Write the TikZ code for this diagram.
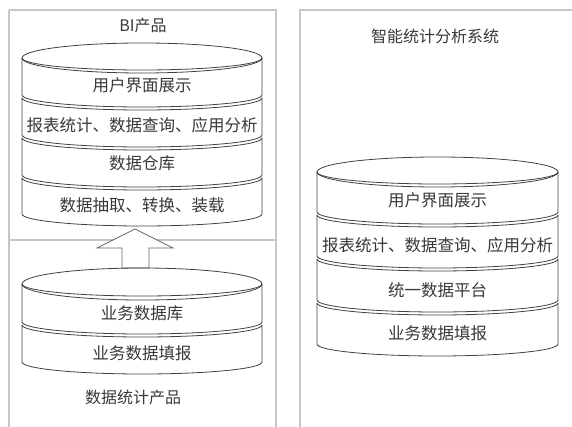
\documentclass[tikz,border=0pt]{standalone}
\usepackage{fontspec}
\newfontfamily\cjk{Noto Sans CJK SC}
\tikzset{
  panel/.style={draw=black!22, line width=1.3pt},
  stackline/.style={draw=black!75, line width=0.8pt},
  lbl/.style={font=\cjk\fontsize{16.5}{18}\selectfont, text=black!78, inner sep=0pt},
  ttl/.style={font=\cjk\fontsize{16}{18}\selectfont, text=black!78, inner sep=0pt},
  blockarrow/.style={draw=black!60, fill=white, line width=0.8pt},
}
% cx, ytop, ybot, rx, ry : one layer (top front arc, sides, bottom front arc)
\newcommand\cylayer[5]{%
  \draw[stackline] (#1-#4,#2) -- (#1-#4,#3)
     arc[start angle=180,end angle=0,x radius=#4,y radius=#5] -- (#1+#4,#2);
  \draw[stackline] (#1-#4,#2) arc[start angle=180,end angle=0,x radius=#4,y radius=#5];
}
\begin{document}
\begin{tikzpicture}[x=1pt,y=-1pt]
\useasboundingbox (0,0) rectangle (572,427);
% panels
\draw[panel] (9,10) -- (276,10) -- (276,432) (9,432) -- (9,10);
\draw[panel] (9,240) -- (276,240);
\draw[panel] (300,432) -- (300,10) -- (576,10);

% titles
\node[ttl] (tBI) at (143,25) {BI产品};
\node[ttl] (tDS) at (133,397) {数据统计产品};
\node[ttl] (tIS) at (435,36) {智能统计分析系统};

% upper-left stack
\draw[stackline] (142,58) ellipse[x radius=120,y radius=15];
\cylayer{142}{58}{95}{120}{12}
\cylayer{142}{98}{135}{120}{12}
\cylayer{142}{138}{175}{120}{12}
\cylayer{142}{178}{214}{120}{12}
\node[lbl] (u1) at (142,85) {用户界面展示};
\node[lbl] (u2) at (142,125) {报表统计、数据查询、应用分析};
\node[lbl] (u3) at (142,163) {数据仓库};
\node[lbl] (u4) at (142,205) {数据抽取、转换、装载};

% block arrow
\coordinate (abot) at (135.5,268);
\coordinate (atip) at (135,229);
\draw[blockarrow] (abot) ++(-13.5,0) -- ++(0,-20) -- ++(-25,0) -- (atip)
  -- (173,248) -- ++(-24,0) -- ++(0,20) -- cycle;

% lower-left stack
\draw[stackline] (142,284) ellipse[x radius=120,y radius=16];
\cylayer{142}{284}{322}{120}{12}
\cylayer{142}{325}{362}{120}{12}
\node[lbl] (l1) at (142,313) {业务数据库};
\node[lbl] (l2) at (142,353) {业务数据填报};

% right stack
\draw[stackline] (437.5,172) ellipse[x radius=120.5,y radius=15];
\cylayer{437.5}{172}{212}{120.5}{12}
\cylayer{437.5}{215}{256}{120.5}{12}
\cylayer{437.5}{259}{300}{120.5}{12}
\cylayer{437.5}{303}{344}{120.5}{12}
\node[lbl] (r1) at (437.5,200) {用户界面展示};
\node[lbl] (r2) at (437.5,245) {报表统计、数据查询、应用分析};
\node[lbl] (r3) at (437.5,290) {统一数据平台};
\node[lbl] (r4) at (437.5,333) {业务数据填报};
\end{tikzpicture}
\end{document}
